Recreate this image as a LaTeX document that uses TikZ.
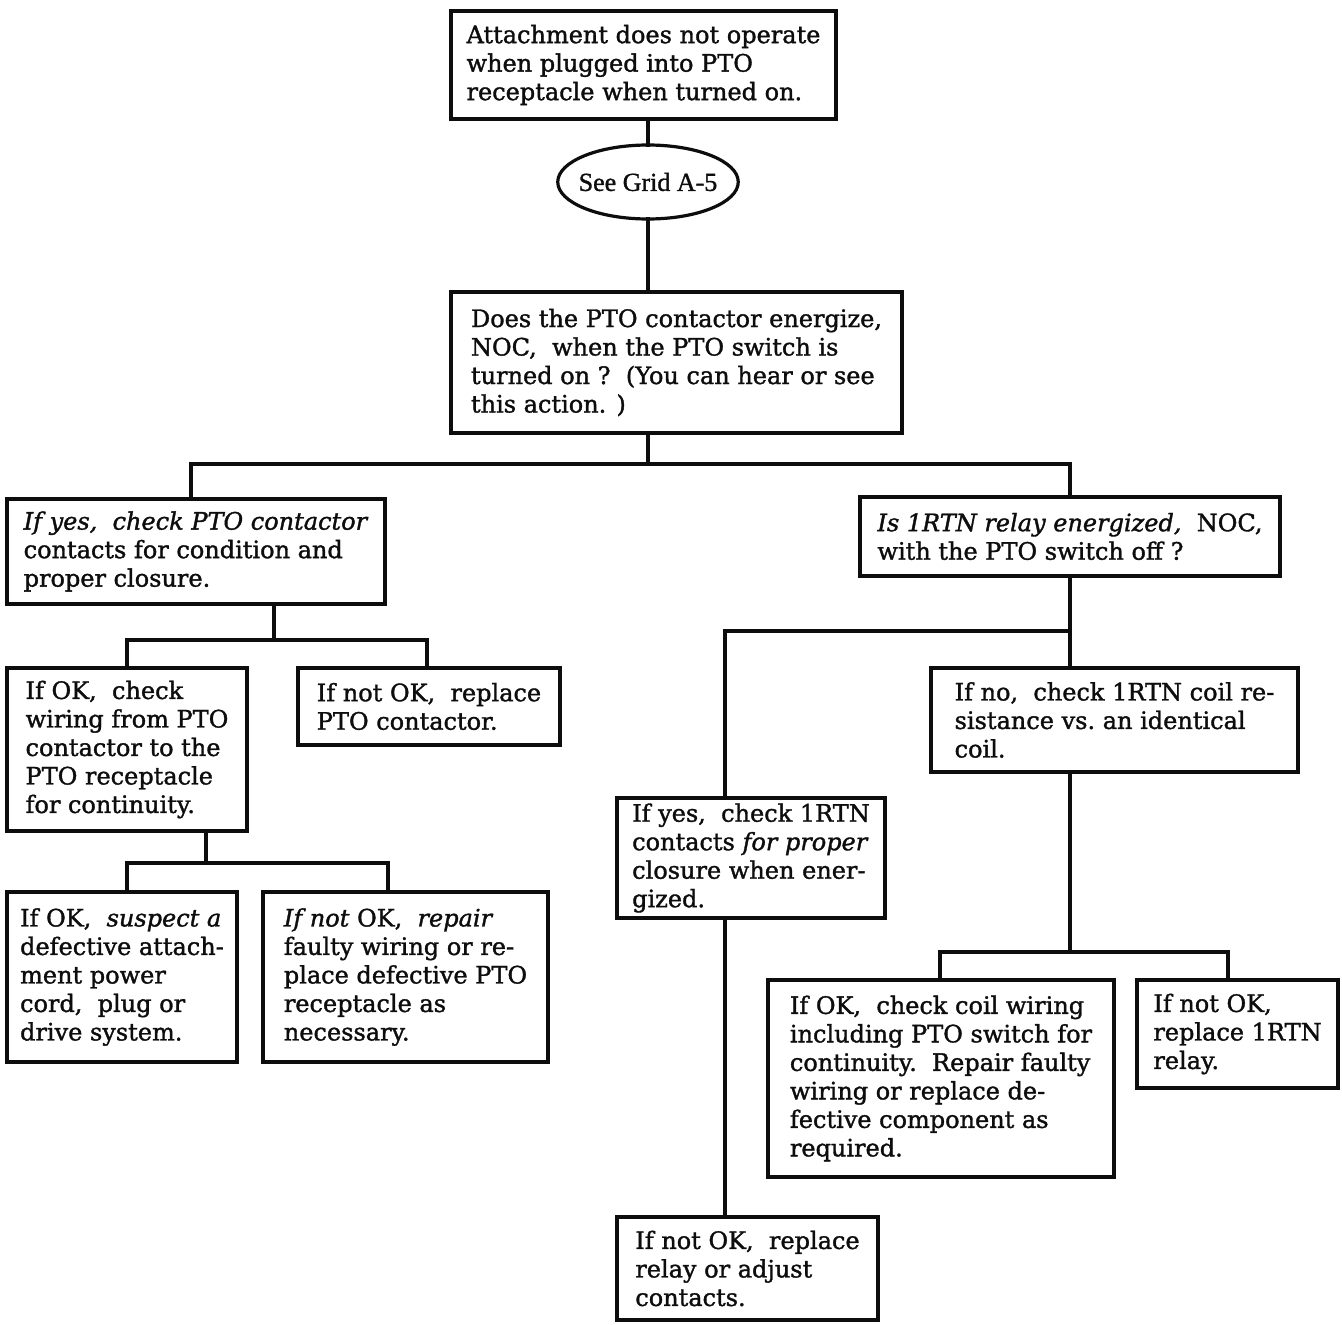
\documentclass[tikz,border=0pt]{standalone}
\usepackage{fontspec}
\setmainfont{DejaVu Serif}[UprightFeatures={FakeBold=1.4}, ItalicFeatures={FakeBold=1.4}]
\newfontfamily\gridfont{Liberation Serif}[FakeBold=1.2]
\usetikzlibrary{shapes.geometric}
\definecolor{ink}{gray}{0.05}

\begin{document}
\begin{tikzpicture}[x=1pt,y=-1pt,
  every node/.style={inner sep=0pt, outer sep=0pt},
  card/.style={draw=ink, line width=3.2pt, rectangle, align=left,
    text=ink, font=\fontsize{24}{28.5}\selectfont},
  oval/.style={draw=ink, line width=3.2pt, ellipse, text=ink, inner xsep=-5.5pt,
    font=\gridfont\fontsize{26}{30}\selectfont},
  flow/.style={draw=ink, line width=3.2pt, line cap=rect, line join=miter}]
\useasboundingbox[fill=white] (0,0) rectangle (1342,1325);

% ---- top of the chart ----
\node[card, minimum width=385pt, minimum height=108pt] (b1) at (643.5,65)
  {Attachment does not operate\\when plugged into PTO\\receptacle when turned on.};
\node[oval, minimum width=176pt, minimum height=74pt] (grid) at (648,182) {See Grid A-5};
\node[card, minimum width=451pt, minimum height=141pt] (b2) at (676.5,362.5)
  {Does the PTO contactor energize,\\NOC,~~when the PTO switch is\\turned on ?~~(You can hear or see\\this action. )};

% ---- left branch ----
\node[card, minimum width=378pt, minimum height=105pt] (b3) at (196,551.5)
  {\textit{If yes,~~check PTO contactor}\\contacts for condition and\\proper closure.};
\node[card, minimum width=240pt, minimum height=163pt] (b5) at (127,749.5)
  {If OK,~~check\\wiring from PTO\\contactor to the\\PTO receptacle\\for continuity.};
\node[card, minimum width=262pt, minimum height=77pt] (b6) at (429,706.5)
  {If not OK,~~replace\\PTO contactor.};
\node[card, minimum width=230pt, minimum height=170pt] (b7) at (122,977)
  {If OK,~~\textit{suspect a}\\defective attach-\\ment power\\cord,~~plug or\\drive system.};
\node[card, minimum width=285pt, minimum height=170pt] (b8) at (405.5,977)
  {\textit{If not} OK,~~\textit{repair}\\faulty wiring or re-\\place defective PTO\\receptacle as\\necessary.};

% ---- right branch ----
\node[card, minimum width=420pt, minimum height=79pt] (b4) at (1070,536.5)
  {\textit{Is 1RTN relay energized,}~~NOC,\\with the PTO switch off ?};
\node[card, minimum width=367pt, minimum height=104pt] (b9) at (1114.5,720)
  {If no,~~check 1RTN coil re-\\sistance vs.~an identical\\coil.};
\node[card, minimum width=268pt, minimum height=120pt] (b10) at (751,858)
  {If yes,~~check 1RTN\\contacts \textit{for proper}\\closure when ener-\\gized.};
\node[card, minimum width=261pt, minimum height=103pt] (b11) at (747.5,1268.5)
  {If not OK,~~replace\\relay or adjust\\contacts.};
\node[card, minimum width=346pt, minimum height=197pt] (b12) at (941,1078.5)
  {If OK,~~check coil wiring\\including PTO switch for\\continuity.~~Repair faulty\\wiring or replace de-\\fective component as\\required.};
\node[card, minimum width=201pt, minimum height=108pt] (b13) at (1237.5,1034)
  {If not OK,\\replace 1RTN\\relay.};

% ---- junction points of the connector buses ----
\coordinate (j1)  at (648,464);
\coordinate (j1L) at (191,464);
\coordinate (j1R) at (1070,464);
\coordinate (j2)  at (274,640);
\coordinate (j2L) at (127,640);
\coordinate (j2R) at (427,640);
\coordinate (j3)  at (206,863);
\coordinate (j3L) at (127,863);
\coordinate (j3R) at (388,863);
\coordinate (j4)  at (1070,631);
\coordinate (j4L) at (725,631);
\coordinate (j5)  at (1070,952);
\coordinate (j5L) at (940,952);
\coordinate (j5R) at (1228,952);

% ---- connectors ----
\draw[flow] (b1.south -| grid.north) -- (grid.north);
\draw[flow] (grid.south) -- (grid.south |- b2.north);
\draw[flow] (j1 |- b2.south) -- (j1);
\draw[flow] (j1L |- b3.north) -- (j1L) -- (j1R) -- (j1R |- b4.north);

\draw[flow] (j2 |- b3.south) -- (j2);
\draw[flow] (j2L |- b5.north) -- (j2L) -- (j2R) -- (j2R |- b6.north);
\draw[flow] (j3 |- b5.south) -- (j3);
\draw[flow] (j3L |- b7.north) -- (j3L) -- (j3R) -- (j3R |- b8.north);

\draw[flow] (j1R |- b4.south) -- (j1R |- b9.north);
\draw[flow] (j4L |- b10.north) -- (j4L) -- (j4);
\draw[flow] (b10.south -| j4L) -- (b11.north -| j4L);
\draw[flow] (j5 |- b9.south) -- (j5);
\draw[flow] (j5L |- b12.north) -- (j5L) -- (j5R) -- (j5R |- b13.north);
\end{tikzpicture}
\end{document}
